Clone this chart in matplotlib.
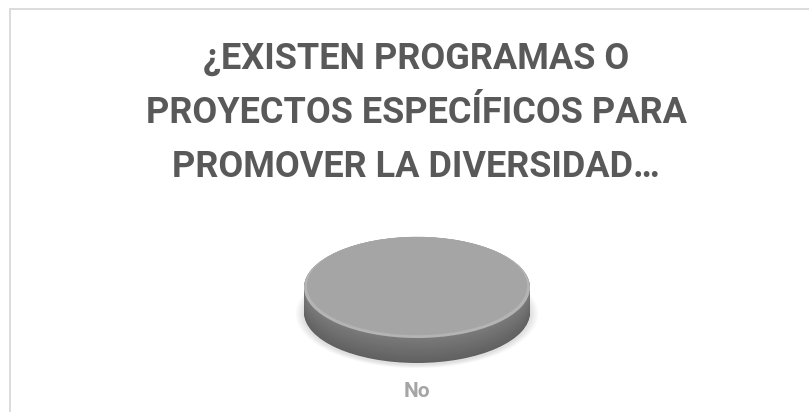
import matplotlib
matplotlib.use("Agg")
import matplotlib.pyplot as plt
from matplotlib.patches import Rectangle
import numpy as np

# chart data
title_lines = ["¿EXISTEN PROGRAMAS O",
               "PROYECTOS ESPECÍFICOS PARA",
               "PROMOVER LA DIVERSIDAD…"]
categories = ["No"]
values = [1]

W, H = 809, 412
fig = plt.figure(figsize=(W / 100, H / 100), dpi=100)
fig.patch.set_facecolor("white")

# chart frame (only top and left edges fall inside the picture)
fig.patches.append(Rectangle((9.5 / W, -0.1), 1.2, 1.1 - 9.5 / H,
                             transform=fig.transFigure, fill=False,
                             edgecolor="#d9d9d9", linewidth=1.3))

for i, line in enumerate(title_lines):
    fig.text(416 / W, 1 - (69 + 54 * i) / H, line, ha="center",
             va="baseline", fontsize=26, fontweight="bold",
             color="#595959", family="Roboto")

# pie geometry in pixels
cx, cy = 417, 287.5
rx, ry = 113, 50.5
depth = 25
top, bottom = 228, 372

ax = fig.add_axes([(cx - rx) / W, 1 - bottom / H, 2 * rx / W, (bottom - top) / H])
ax.axis("off")

# soft shadow under the disc
for k in range(6):
    ax.pie(values, center=(0, -depth / ry - 0.03), radius=1.0 + 0.012 * (6 - k),
           startangle=90, colors=[(0.86 + 0.02 * (6 - k),) * 3],
           wedgeprops=dict(linewidth=0))

# side of the disc: stacked copies of the pie, darker toward the bottom
steps = 30
for i, d in enumerate(np.linspace(depth / ry, 0, steps)):
    g = 0.38 + 0.10 * i / (steps - 1)
    ax.pie(values, center=(0, -d), radius=1, startangle=90,
           colors=[(g, g, g)], wedgeprops=dict(linewidth=0))

# top face with a faint bevel
ax.pie(values, center=(0, 0), radius=1, startangle=90,
       colors=["#b4b4b4"], wedgeprops=dict(linewidth=0))
ax.pie(values, labels=categories, center=(0, 0.03), radius=0.975, startangle=90,
       colors=["#a5a5a5"], wedgeprops=dict(linewidth=0),
       labeldistance=(390 - cy) / ry,
       textprops=dict(ha="center", va="baseline", fontsize=15,
                      fontweight="bold", color="#a5a5a5", family="Roboto"))
for t in ax.texts:
    t.set_y(-(397 - cy) / ry)

ax.set_aspect("auto")
ax.set_xlim(-1, 1)
ax.set_ylim(-(bottom - cy) / ry, (cy - top) / ry)

fig.savefig("out.png", dpi=100, facecolor="white")
